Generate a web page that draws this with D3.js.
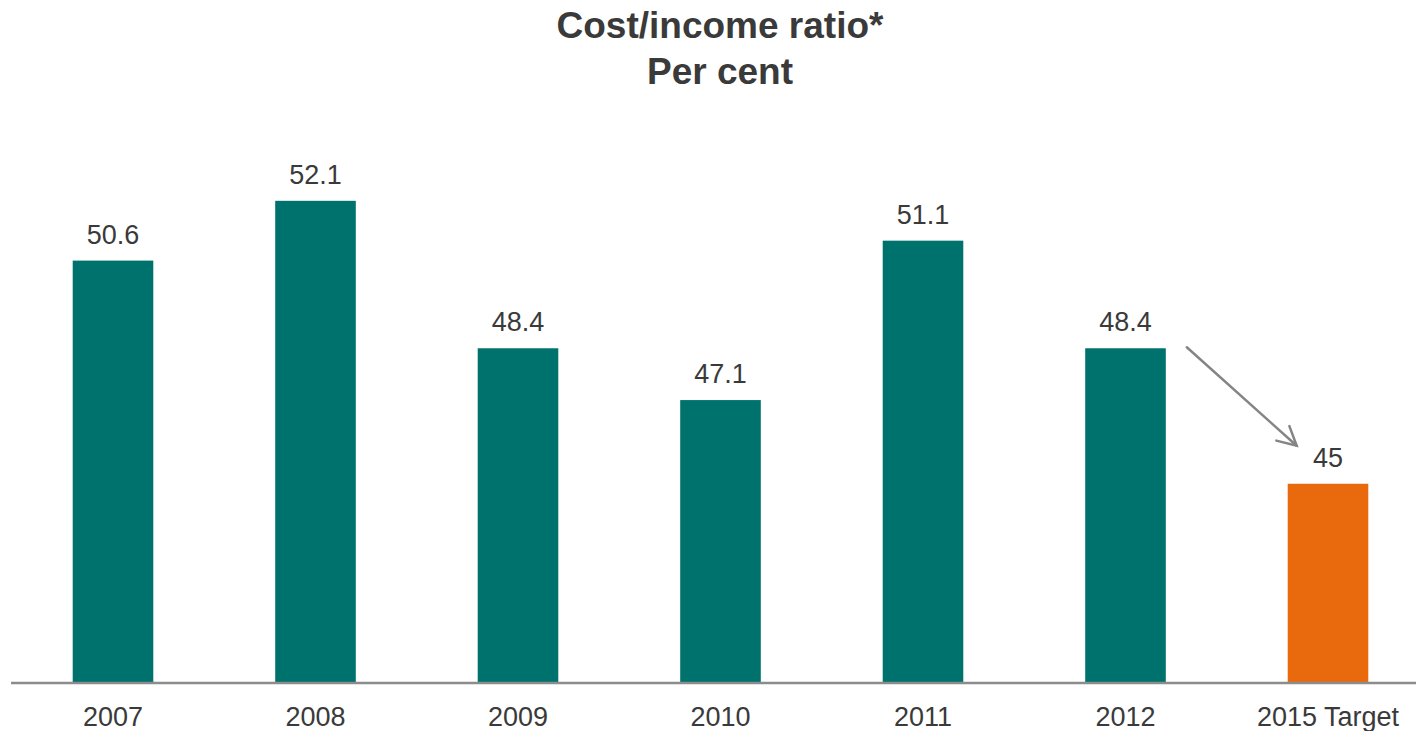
<!DOCTYPE html>
<html>
<head>
<meta charset="utf-8">
<script src="https://cdn.jsdelivr.net/npm/d3@7"></script>
<style>
  html, body { margin: 0; padding: 0; background: #fff; }
  svg { display: block; }
  text { font-family: "Liberation Sans", Arial, sans-serif; }
</style>
</head>
<body>
<svg id="chart" width="1416" height="731"></svg>
<script>
const categories = ["2007", "2008", "2009", "2010", "2011", "2012", "2015 Target"];
const values = [50.6, 52.1, 48.4, 47.1, 51.1, 48.4, 45];
const valueLabels = ["50.6", "52.1", "48.4", "47.1", "51.1", "48.4", "45"];
const titleLines = ["Cost/income ratio*", "Per cent"];

const W = 1416, H = 731;
const svg = d3.select("#chart");

const x = d3.scaleBand()
  .domain(categories)
  .range([11.75, 1429.25])
  .paddingInner(0.602)
  .paddingOuter(0.301);

const y = d3.scaleLinear()
  .domain([40, 55])
  .range([683, 85.25]);

const teal = "#00726E";
const orange = "#E86A0C";
const textColor = "#3A3A3A";

// title
svg.append("g").selectAll("text")
  .data(titleLines)
  .join("text")
  .attr("x", 720)
  .attr("y", (d, i) => 38 + i * 46)
  .attr("text-anchor", "middle")
  .attr("font-size", 37)
  .attr("font-weight", "bold")
  .attr("fill", textColor)
  .text(d => d);

// bars
svg.append("g").selectAll("rect")
  .data(values)
  .join("rect")
  .attr("x", (d, i) => x(categories[i]))
  .attr("width", x.bandwidth())
  .attr("y", d => y(d))
  .attr("height", d => y(40) - y(d))
  .attr("fill", (d, i) => i === values.length - 1 ? orange : teal);

// value labels
svg.append("g").selectAll("text")
  .data(values)
  .join("text")
  .attr("x", (d, i) => x(categories[i]) + x.bandwidth() / 2)
  .attr("y", d => y(d) - 17)
  .attr("text-anchor", "middle")
  .attr("font-size", 27)
  .attr("fill", textColor)
  .text((d, i) => valueLabels[i]);

// axis baseline
svg.append("line")
  .attr("x1", 11).attr("x2", 1416)
  .attr("y1", y(40)).attr("y2", y(40))
  .attr("stroke", "#8C8C8C")
  .attr("stroke-width", 2.5);

// axis labels
const xAxis = svg.append("g")
  .attr("transform", `translate(0,${y(40)})`)
  .call(d3.axisBottom(x).tickSize(0).tickPadding(24));
xAxis.select(".domain").remove();
xAxis.selectAll("text")
  .attr("font-size", 27)
  .attr("font-family", "'Liberation Sans', Arial, sans-serif")
  .attr("fill", textColor)
  .attr("dy", "0.71em");

// arrow from 2012 to 2015 target
const i12 = 5, i15 = 6;
const ax1 = x(categories[i12]) + x.bandwidth() + 21;
const ay1 = y(values[i12]) - 1;
const ax2 = x(categories[i15]) + 9;
const ay2 = y(values[i15]) - 38;
const ang = Math.atan2(ay2 - ay1, ax2 - ax1);
const hl = 21, ha = Math.PI / 6.5;
const arrow = svg.append("g")
  .attr("stroke", "#858585")
  .attr("stroke-width", 2.5)
  .attr("fill", "none")
  .attr("stroke-linecap", "round");
arrow.append("line")
  .attr("x1", ax1).attr("y1", ay1)
  .attr("x2", ax2).attr("y2", ay2);
arrow.append("path")
  .attr("d", `M${ax2 - hl * Math.cos(ang - ha)},${ay2 - hl * Math.sin(ang - ha)} L${ax2},${ay2} L${ax2 - hl * Math.cos(ang + ha)},${ay2 - hl * Math.sin(ang + ha)}`)
  .attr("stroke-linejoin", "miter");
</script>
</body>
</html>
